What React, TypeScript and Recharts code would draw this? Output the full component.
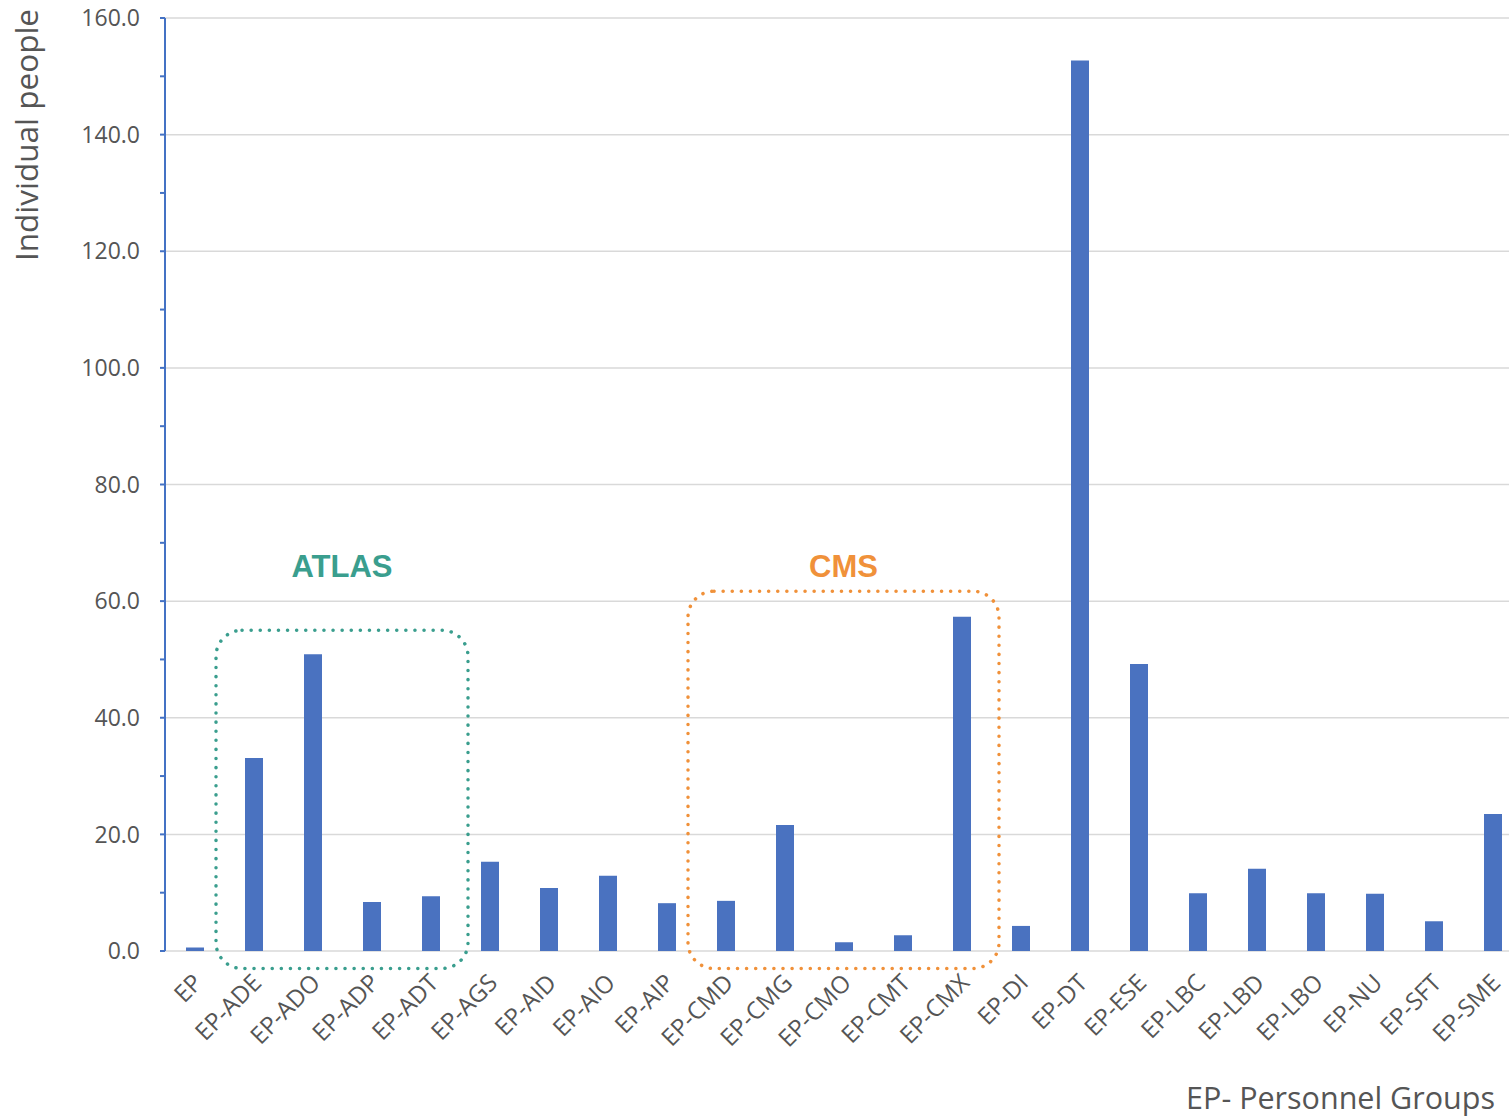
import React from 'react';
import { BarChart, Bar, XAxis, YAxis, CartesianGrid, ReferenceArea } from 'recharts';

const groups = [
  'EP', 'EP-ADE', 'EP-ADO', 'EP-ADP', 'EP-ADT', 'EP-AGS', 'EP-AID', 'EP-AIO', 'EP-AIP',
  'EP-CMD', 'EP-CMG', 'EP-CMO', 'EP-CMT', 'EP-CMX', 'EP-DI', 'EP-DT', 'EP-ESE', 'EP-LBC',
  'EP-LBD', 'EP-LBO', 'EP-NU', 'EP-SFT', 'EP-SME',
];
const people = [
  0.6, 33.1, 50.9, 8.4, 9.4, 15.3, 10.8, 12.9, 8.2,
  8.6, 21.6, 1.5, 2.7, 57.3, 4.3, 152.7, 49.2, 9.9,
  14.1, 9.9, 9.8, 5.1, 23.5,
];
const yTicks = [0, 10, 20, 30, 40, 50, 60, 70, 80, 90, 100, 110, 120, 130, 140, 150, 160];
const gridValues = [0, 20, 40, 60, 80, 100, 120, 140, 160];

// experiment boxes drawn round groups of bars
const boxNames = ['ATLAS', 'CMS'];
const boxFrom = ['EP-ADE', 'EP-CMD'];
const boxTo = ['EP-ADT', 'EP-CMX'];
const boxTop = [55, 61.7];
const boxColors = ['#3a9e8e', '#f0913a'];
const boxLabelY = 64.2;

const data = groups.map((name, i) => ({ name, people: people[i] }));

const FONT = '"Open Sans", "Liberation Sans", sans-serif';
const GREY = '#555555';

const XTick = (props: any) => {
  const { x, y, payload } = props;
  return (
    <g transform={`translate(${x - 2},${y + 14})`}>
      <text transform="rotate(-45)" textAnchor="end" dy={16} fontSize={24} fill={GREY} fontFamily={FONT}>
        {payload.value}
      </text>
    </g>
  );
};

const boxShape = (color: string) => (p: any) => (
  <rect
    x={p.x - 8}
    y={p.y}
    width={p.width + 16}
    height={p.height}
    rx={26}
    ry={26}
    fill="none"
    stroke={color}
    strokeWidth={3.5}
    strokeDasharray="0.1 9"
    strokeLinecap="round"
  />
);

const labelShape = (name: string, color: string) => (p: any) => (
  <text
    x={p.x + p.width / 2}
    y={p.y + p.height}
    textAnchor="middle"
    fontSize={31}
    fontWeight="bold"
    fill={color}
    fontFamily='"Liberation Sans", Arial, sans-serif'
  >
    {name}
  </text>
);

export default function App() {
  return (
    <div style={{ position: 'absolute', left: 0, top: 0, width: 1509, height: 1117, overflow: 'hidden', background: '#fff' }}>
      <BarChart
        width={1540}
        height={1117}
        data={data}
        margin={{ top: 18, right: 18, left: 0, bottom: 0 }}
        barSize={18}
      >
        <CartesianGrid vertical={false} horizontalValues={gridValues} stroke="#d9d9d9" strokeWidth={1.5} />
        <XAxis
          dataKey="name"
          interval={0}
          height={166}
          axisLine={false}
          tickLine={false}
          tick={<XTick />}
          label={{
            content: () => (
              <text x={1495} y={1109} textAnchor="end" fontSize={30.5} fill={GREY} fontFamily={FONT}>
                EP- Personnel Groups
              </text>
            ),
          }}
        />
        <YAxis
          width={165}
          domain={[0, 160]}
          ticks={yTicks}
          interval={0}
          tickFormatter={(v: number) => (v % 20 === 0 ? v.toFixed(1) : '')}
          axisLine={{ stroke: '#4472c4', strokeWidth: 2 }}
          tickLine={{ stroke: '#4472c4', strokeWidth: 2 }}
          tickSize={5}
          tickMargin={20}
          tick={{ fontSize: 23, fill: GREY, fontFamily: FONT }}
          label={{
            content: () => (
              <text x={38} y={135} transform="rotate(-90, 38, 135)" textAnchor="middle" fontSize={31.5} fill={GREY} fontFamily={FONT}>
                Individual people
              </text>
            ),
          }}
        />
        <Bar dataKey="people" fill="#4a72c0" isAnimationActive={false} />
        {boxNames.map((name, i) => (
          <ReferenceArea
            key={name}
            x1={boxFrom[i]}
            x2={boxTo[i]}
            y1={-3}
            y2={boxTop[i]}
            ifOverflow="visible"
            shape={boxShape(boxColors[i])}
          />
        ))}
        {boxNames.map((name, i) => (
          <ReferenceArea
            key={name + '-label'}
            x1={boxFrom[i]}
            x2={boxTo[i]}
            y1={boxLabelY}
            y2={boxLabelY + 6}
            ifOverflow="visible"
            shape={labelShape(name, boxColors[i])}
          />
        ))}
      </BarChart>
    </div>
  );
}
